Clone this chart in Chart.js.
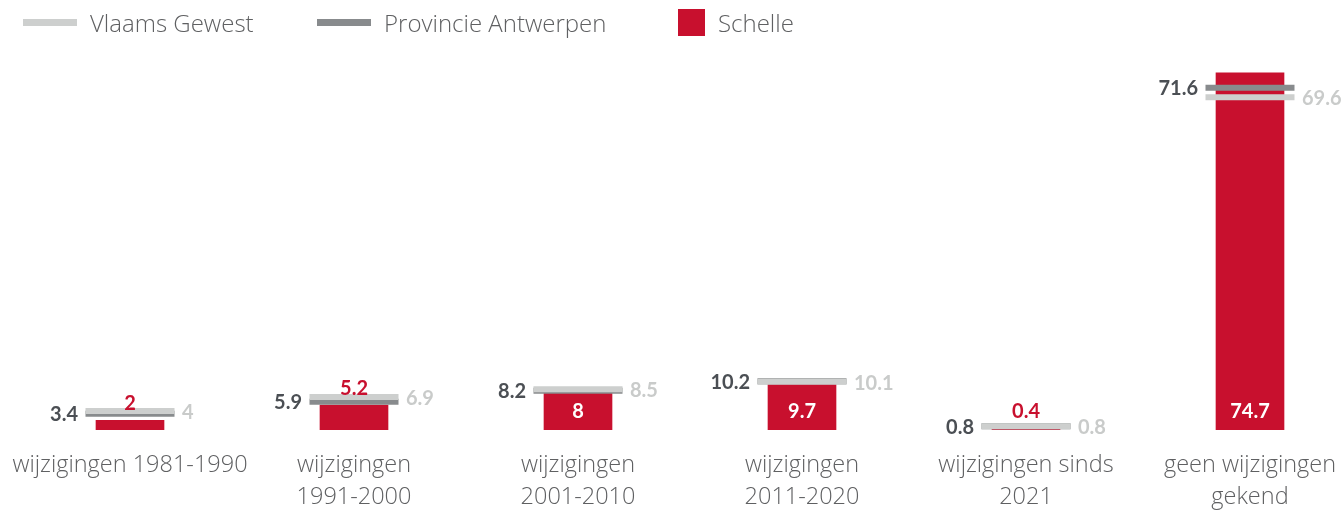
<!DOCTYPE html>
<html>
<head>
<meta charset="utf-8">
<script src="https://cdn.jsdelivr.net/npm/chart.js@4/dist/chart.umd.min.js"></script>
<style>
  html, body { margin: 0; padding: 0; background: #fff; overflow: hidden; }
  #wrap { position: relative; width: 1380px; height: 511px; }
  #legend { position: absolute; left: 0; top: -1px; height: 46px; width: 1344px; z-index: 2; }
  .item { position: absolute; top: 0; height: 46px; display: flex; align-items: center;
          font-family: "Open Sans", sans-serif; font-weight: 300; font-size: 24px; color: #5f6062; }
  .item .sw { display: inline-block; margin-right: 13px; }
</style>
</head>
<body>
<div id="wrap">
  <div id="legend"></div>
  <canvas id="chart" width="1380" height="511"></canvas>
</div>
<script>
// categories and series
const categories = [
    ['wijzigingen 1981-1990'],
    ['wijzigingen', '1991-2000'],
    ['wijzigingen', '2001-2010'],
    ['wijzigingen', '2011-2020'],
    ['wijzigingen sinds', '2021'],
    ['geen wijzigingen', 'gekend']
];
const vlaamsGewest = [4, 6.9, 8.5, 10.1, 0.8, 69.6];
const provincieAntwerpen = [3.4, 5.9, 8.2, 10.2, 0.8, 71.6];
const schelle = [2, 5.2, 8, 9.7, 0.4, 74.7];

const RED = '#c8102e';
const LIGHT = '#cdcfce';
const DARK = '#888b8d';

// legend (HTML, fixed spacing)
const legendItems = [
    { label: 'Vlaams Gewest', left: 23, sw: 'width:54px;height:7px;background:' + LIGHT },
    { label: 'Provincie Antwerpen', left: 317, sw: 'width:54px;height:7px;background:' + DARK },
    { label: 'Schelle', left: 678, sw: 'width:27px;height:27px;background:' + RED }
];
const legend = document.getElementById('legend');
legendItems.forEach(it => {
    const d = document.createElement('div');
    d.className = 'item';
    d.style.left = it.left + 'px';
    d.innerHTML = '<span class="sw" style="' + it.sw + '"></span><span>' + it.label + '</span>';
    legend.appendChild(d);
});

// value labels next to markers and on bars
const valueLabels = {
    id: 'valueLabels',
    afterDatasetsDraw(chart) {
        const ctx = chart.ctx;
        const base = chart.scales.y.getPixelForValue(0);
        ctx.save();
        ctx.font = 'bold 20px Lato, sans-serif';
        ctx.textBaseline = 'middle';

        chart.getDatasetMeta(1).data.forEach((pt, i) => {
            ctx.fillStyle = '#4b4f54';
            ctx.textAlign = 'right';
            ctx.fillText(provincieAntwerpen[i], pt.x - 52, pt.y + 1);
        });
        chart.getDatasetMeta(0).data.forEach((pt, i) => {
            ctx.fillStyle = '#c9cbca';
            ctx.textAlign = 'left';
            ctx.fillText(vlaamsGewest[i], pt.x + 52, pt.y + 1.5);
        });
        chart.getDatasetMeta(2).data.forEach((bar, i) => {
            ctx.textAlign = 'center';
            if (base - bar.y >= 32) {
                ctx.fillStyle = '#fff';
                ctx.fillText(schelle[i], bar.x, base - 18);
            } else {
                ctx.fillStyle = RED;
                ctx.fillText(schelle[i], bar.x, bar.y - 17);
            }
        });
        ctx.restore();
    }
};

const markerStyle = {
    type: 'line',
    showLine: false,
    pointStyle: 'line',
    pointRadius: 44.5,
    pointHoverRadius: 44.5,
    pointBorderWidth: 6,
    pointHoverBorderWidth: 6
};

new Chart(document.getElementById('chart'), {
    type: 'bar',
    data: {
        labels: categories,
        datasets: [
            Object.assign({ label: 'Vlaams Gewest', data: vlaamsGewest,
                pointBorderColor: LIGHT, borderColor: LIGHT }, markerStyle),
            Object.assign({ label: 'Provincie Antwerpen', data: provincieAntwerpen,
                pointBorderColor: DARK, borderColor: DARK }, markerStyle),
            { label: 'Schelle', data: schelle, backgroundColor: RED, barThickness: 68 }
        ]
    },
    options: {
        responsive: false,
        animation: false,
        events: [],
        layout: { autoPadding: false, padding: { left: 18, right: 18, top: 71.5, bottom: 0 } },
        plugins: { legend: { display: false }, tooltip: { enabled: false } },
        scales: {
            x: {
                grid: { display: false, drawTicks: false },
                border: { display: false },
                ticks: {
                    autoSkip: false,
                    maxRotation: 0,
                    minRotation: 0,
                    padding: 19,
                    color: '#5f6062',
                    font: { family: 'Open Sans', weight: 300, size: 23.5, lineHeight: 32 / 23.5 }
                },
                afterFit: s => { s.paddingLeft = 0; s.paddingRight = 0; s.height = 81; }
            },
            y: { display: false, min: 0, max: 75 }
        }
    },
    plugins: [valueLabels]
});
</script>
</body>
</html>
